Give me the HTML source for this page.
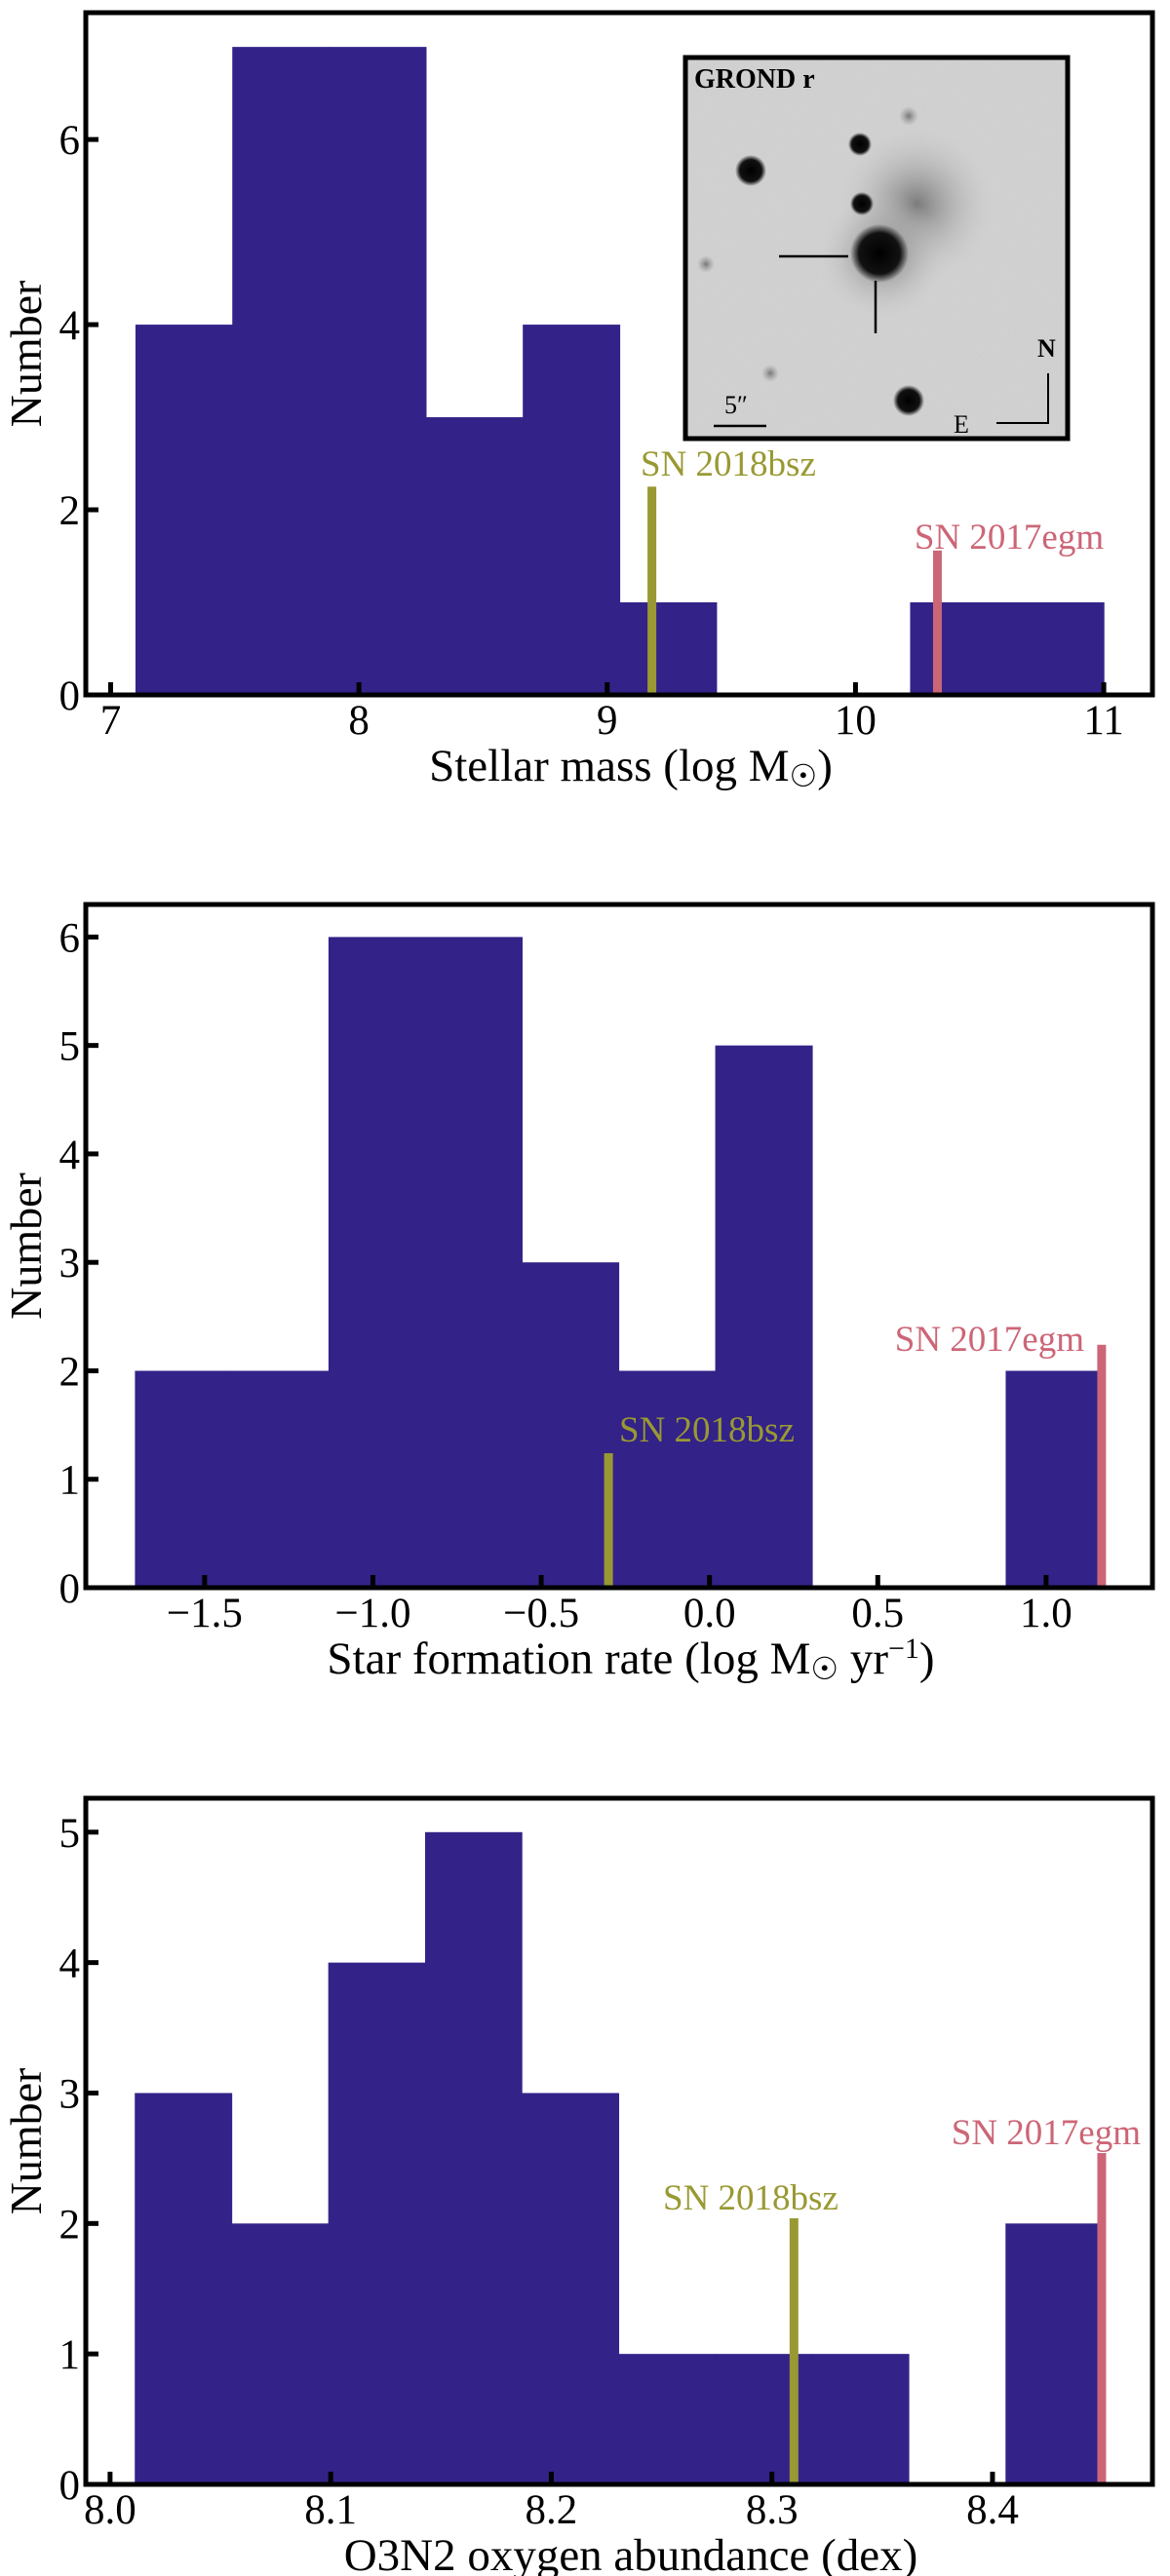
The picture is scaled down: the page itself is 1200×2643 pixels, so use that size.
<!DOCTYPE html>
<html><head><meta charset="utf-8"><style>
html,body{margin:0;padding:0;background:#fff;}
svg{display:block;font-family:"Liberation Serif","DejaVu Serif",serif;}
</style></head><body>
<svg id="fig" width="1200" height="2643" viewBox="0 0 1200 2643" xmlns="http://www.w3.org/2000/svg">
<defs>
<radialGradient id="star" cx="50%" cy="50%" r="50%"><stop offset="0%" stop-color="#000"/><stop offset="70%" stop-color="#111"/><stop offset="100%" stop-color="#111" stop-opacity="0"/></radialGradient>
<radialGradient id="faint" cx="50%" cy="50%" r="50%"><stop offset="0%" stop-color="#777"/><stop offset="100%" stop-color="#999" stop-opacity="0"/></radialGradient>
<radialGradient id="halo" cx="50%" cy="50%" r="50%"><stop offset="0%" stop-color="#7a7a7a"/><stop offset="100%" stop-color="#c8c8c8" stop-opacity="0"/></radialGradient>
<filter id="noise" x="0" y="0" width="1" height="1"><feTurbulence type="fractalNoise" baseFrequency="0.9" numOctaves="1" result="n"/><feColorMatrix type="saturate" values="0"/><feComponentTransfer><feFuncA type="linear" slope="0.18"/></feComponentTransfer></filter>
<clipPath id="insetclip"><rect x="703" y="59" width="392" height="391"/></clipPath>
</defs>
<g id="p1"></g>
<g id="p2"></g>
<g id="p3"></g>
<g id="inset">
 <g clip-path="url(#insetclip)">
  <rect x="703" y="59" width="392" height="391" fill="#d2d2d2"/>
  <rect x="703" y="59" width="392" height="391" filter="url(#noise)"/>
  <circle cx="940" cy="210" r="80" fill="url(#halo)"/>
  <circle cx="905" cy="262" r="65" fill="url(#halo)"/>
  <circle cx="770" cy="175" r="16" fill="url(#star)"/>
  <circle cx="882" cy="148" r="12" fill="url(#star)"/>
  <circle cx="932" cy="119" r="10" fill="url(#faint)"/>
  <circle cx="884" cy="209" r="12" fill="url(#star)"/>
  <circle cx="902" cy="260" r="30" fill="url(#star)"/>
  <circle cx="724" cy="271" r="9" fill="url(#faint)"/>
  <circle cx="790" cy="383" r="9" fill="url(#faint)"/>
  <circle cx="932" cy="411" r="16" fill="url(#star)"/>
 </g>
  <line x1="799" y1="263" x2="870" y2="263" stroke="#000" stroke-width="2.5"/>
  <line x1="898" y1="288" x2="898" y2="342" stroke="#000" stroke-width="2.5"/>
  <text x="712" y="90" font-size="28" font-weight="bold">GROND r</text>
  <text x="743" y="424" font-size="26">5″</text>
  <line x1="732" y1="437" x2="786" y2="437" stroke="#000" stroke-width="2.5"/>
  <text x="1064" y="366" font-size="26" font-weight="bold">N</text>
  <text x="978" y="444" font-size="26">E</text>
  <path d="M1075 383 L1075 434 L1022 434" fill="none" stroke="#000" stroke-width="2"/>
  <rect x="703" y="59" width="392" height="391" fill="none" stroke="#000" stroke-width="5"/>
</g>
</svg>
<script>
// Panel 1: stellar mass
const massEdges = [7.10, 7.49, 7.88, 8.27, 8.66, 9.05, 9.44, 9.83, 10.22, 10.61, 11.00];
const massCounts = [4, 7, 7, 3, 4, 1, 0, 0, 1, 1];
const massXTicks = [7, 8, 9, 10, 11];
const massXTickLabels = ["7", "8", "9", "10", "11"];
const massYTicks = [0, 2, 4, 6];
const massSN = [9.18, 10.33];
const massSNHeights = [2.25, 1.56];
// Panel 2: star formation rate
const sfrEdges = [-1.707, -1.420, -1.132, -0.845, -0.557, -0.270, 0.017, 0.305, 0.592, 0.880, 1.167];
const sfrCounts = [2, 2, 6, 6, 3, 2, 5, 0, 0, 2];
const sfrXTicks = [-1.5, -1.0, -0.5, 0.0, 0.5, 1.0];
const sfrXTickLabels = ["\u22121.5", "\u22121.0", "\u22120.5", "0.0", "0.5", "1.0"];
const sfrYTicks = [0, 1, 2, 3, 4, 5, 6];
const sfrSN = [-0.30, 1.165];
const sfrSNHeights = [1.24, 2.24];
// Panel 3: O3N2 metallicity
const ohEdges = [8.0112, 8.0551, 8.0989, 8.1428, 8.1866, 8.2305, 8.2743, 8.3182, 8.3620, 8.4059, 8.4497];
const ohCounts = [3, 2, 4, 5, 3, 1, 1, 1, 0, 2];
const ohXTicks = [8.0, 8.1, 8.2, 8.3, 8.4];
const ohXTickLabels = ["8.0", "8.1", "8.2", "8.3", "8.4"];
const ohYTicks = [0, 1, 2, 3, 4, 5];
const ohSN = [8.310, 8.4495];
const ohSNHeights = [2.04, 2.54];
const snNames = ["SN 2018bsz", "SN 2017egm"];

const NS = "http://www.w3.org/2000/svg";
function mk(tag, attrs, parent){const e=document.createElementNS(NS,tag);for(const k in attrs)e.setAttribute(k,attrs[k]);parent.appendChild(e);return e;}

function panel(g, cfg){
  const L=88,R=1182,T=cfg.top,B=cfg.bottom;
  const sx=v=>L+(v-cfg.xmin)/(cfg.xmax-cfg.xmin)*(R-L);
  const sy=v=>B-(v/cfg.ymax)*(B-T);
  for(let i=0;i<cfg.counts.length;i++){
    if(cfg.counts[i]<=0) continue;
    const x0=sx(cfg.edges[i]), x1=sx(cfg.edges[i+1]);
    const r=mk('rect',{x:x0,y:sy(cfg.counts[i]),width:x1-x0+0.6,height:B-sy(cfg.counts[i]),fill:'#332288'},g);
    
    
  }
  const cols=['#999933','#CC6677'];
  for(let j=0;j<2;j++){
    const x=sx(cfg.sn[j]);
    const l=mk('rect',{x:x-4.5,y:sy(cfg.snH[j]),width:9,height:B-sy(cfg.snH[j]),fill:cols[j]},g);
    
    
    const lp=cfg.labels[j];
    const t=mk('text',{x:lp[0],y:lp[1],'font-size':37,fill:cols[j],'text-anchor':lp[2]},g);
    t.textContent=snNames[j];
    
    
  }
  cfg.xt.forEach((v,i)=>{
    const x=sx(v);
    mk('line',{x1:x,y1:B,x2:x,y2:B-13,stroke:'#000','stroke-width':5},g);
    const t=mk('text',{x:x,y:B+40,'font-size':43,'text-anchor':'middle'},g);
    t.textContent=cfg.xtl[i];
    
    
  });
  cfg.yt.forEach(v=>{
    const y=sy(v);
    mk('line',{x1:L,y1:y,x2:L+13,y2:y,stroke:'#000','stroke-width':5},g);
    const t=mk('text',{x:L-6,y:y+15,'font-size':43,'text-anchor':'end'},g);
    t.textContent=String(v);
    
    
  });
  const f=mk('rect',{x:L,y:T,width:R-L,height:B-T,fill:'none',stroke:'#000','stroke-width':5},g);
  
  
  const yl=mk('text',{x:0,y:0,'font-size':46,'text-anchor':'middle',transform:`translate(42 ${(T+B)/2}) rotate(-90)`},g);
  yl.textContent='Number';
  
  
  const xl=mk('text',{x:(L+R)/2+12,y:B+88,'font-size':47,'text-anchor':'middle'},g);
  xl.innerHTML=cfg.xlabel;
  
  
}

panel(document.getElementById('p1'),{top:13,bottom:713,xmin:6.9,xmax:11.196,ymax:7.37,edges:massEdges,counts:massCounts,xt:massXTicks,xtl:massXTickLabels,yt:massYTicks,sn:massSN,snH:massSNHeights,labels:[[657,488,'start'],[1035,563,'middle']],xlabel:'Stellar mass (log M<tspan font-size="32" dy="6">☉</tspan><tspan dy="-6">)</tspan>'});
panel(document.getElementById('p2'),{top:928,bottom:1629,xmin:-1.853,xmax:1.316,ymax:6.3,edges:sfrEdges,counts:sfrCounts,xt:sfrXTicks,xtl:sfrXTickLabels,yt:sfrYTicks,sn:sfrSN,snH:sfrSNHeights,labels:[[635,1479,'start'],[1112,1386,'end']],xlabel:'Star formation rate (log M<tspan font-size="32" dy="6">☉</tspan><tspan dy="-6"> yr</tspan><tspan font-size="30" dy="-16">−1</tspan><tspan dy="16">)</tspan>'});
panel(document.getElementById('p3'),{top:1845,bottom:2549,xmin:7.989,xmax:8.4725,ymax:5.26,edges:ohEdges,counts:ohCounts,xt:ohXTicks,xtl:ohXTickLabels,yt:ohYTicks,sn:ohSN,snH:ohSNHeights,labels:[[680,2267,'start'],[1170,2200,'end']],xlabel:'O3N2 oxygen abundance (dex)'});
</script>
</body></html>
